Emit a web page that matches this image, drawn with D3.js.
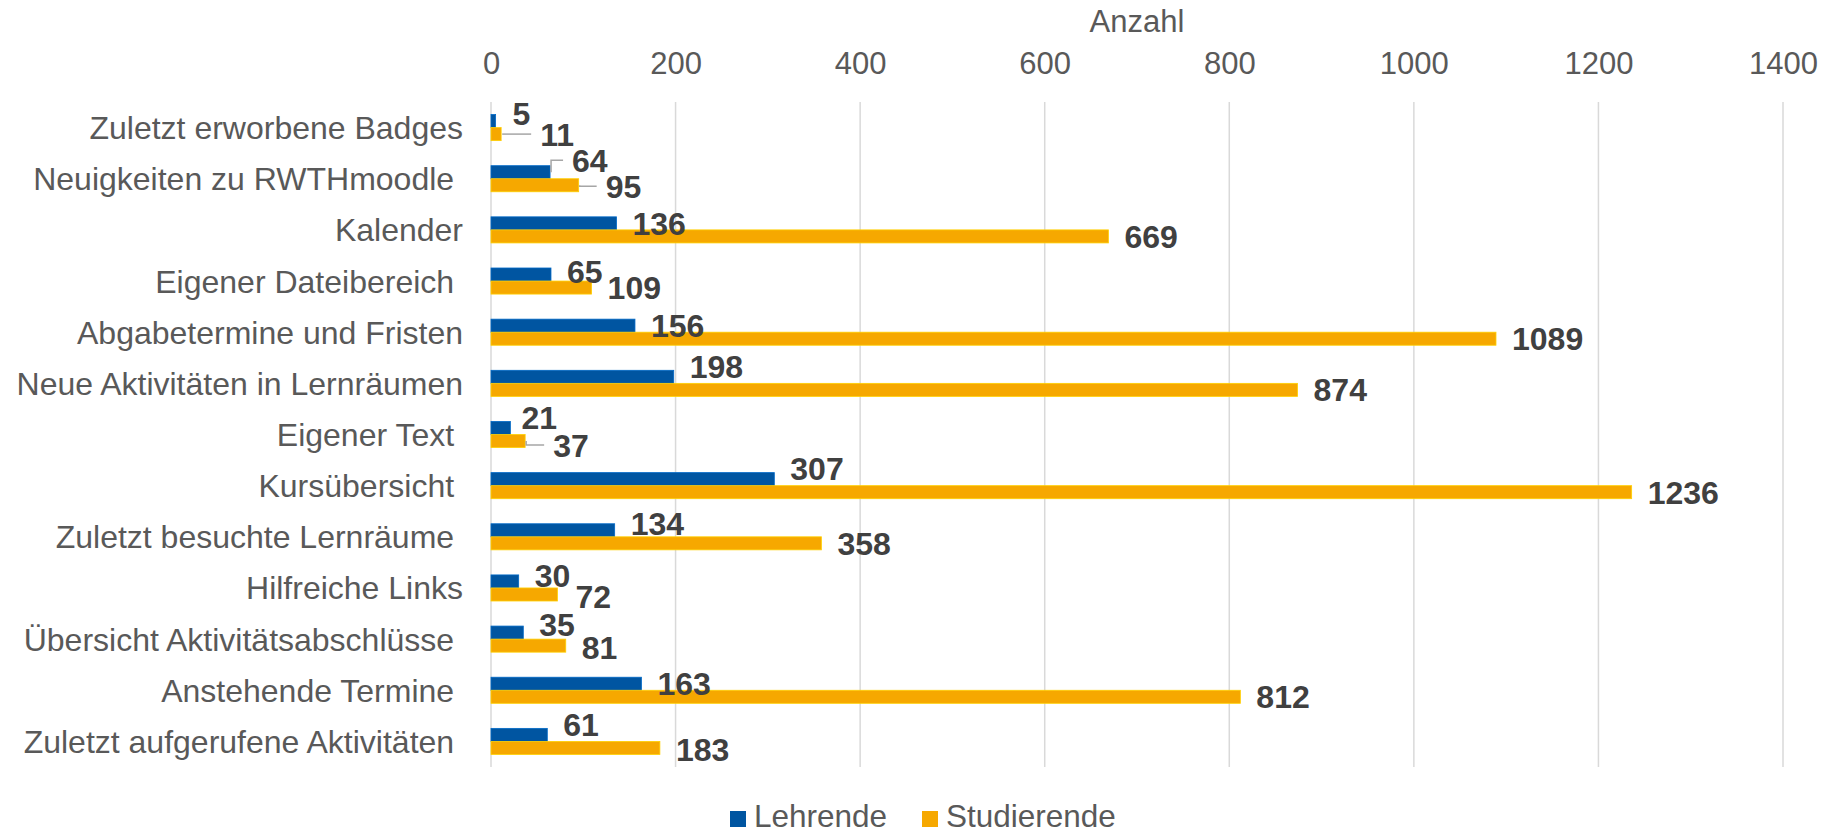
<!DOCTYPE html>
<html>
<head>
<meta charset="utf-8">
<script src="https://cdn.jsdelivr.net/npm/d3@7"></script>
<style>
    body { margin: 0; background: #fff; }
    text { font-family: "Liberation Sans", Arial, sans-serif; }
    .cat { white-space: pre; }
</style>
</head>
<body>
<script>
// data
const categories = [
    "Zuletzt erworbene Badges",
    "Neuigkeiten zu RWTHmoodle ",
    "Kalender",
    "Eigener Dateibereich ",
    "Abgabetermine und Fristen",
    "Neue Aktivitäten in Lernräumen",
    "Eigener Text ",
    "Kursübersicht ",
    "Zuletzt besuchte Lernräume ",
    "Hilfreiche Links",
    "Übersicht Aktivitätsabschlüsse ",
    "Anstehende Termine ",
    "Zuletzt aufgerufene Aktivitäten ",
];
const lehrende = [5, 64, 136, 65, 156, 198, 21, 307, 134, 30, 35, 163, 61];
const studierende = [11, 95, 669, 109, 1089, 874, 37, 1236, 358, 72, 81, 812, 183];
const seriesNames = ["Lehrende", "Studierende"];
const xTicks = [0, 200, 400, 600, 800, 1000, 1200, 1400];
const axisTitle = "Anzahl";

const colours = ["#0055A1", "#F6A800"];

const width = 1831;
const height = 835;

const svg = d3
    .select("body")
    .append("svg")
    .attr("width", width)
    .attr("height", height);

const x = d3.scaleLinear().domain([0, 1400]).range([491, 1783]);
const y = d3
    .scaleBand()
    .domain(d3.range(categories.length))
    .range([102, 767])
    .paddingInner(0.49)
    .paddingOuter(0.245);
const ySub = d3.scaleBand().domain([0, 1]).range([0, y.bandwidth()]);

// gridlines
svg.append("g")
    .selectAll("line")
    .data(xTicks)
    .join("line")
    .attr("x1", (d) => x(d))
    .attr("x2", (d) => x(d))
    .attr("y1", 102)
    .attr("y2", 767)
    .attr("stroke", "#d9d9d9")
    .attr("stroke-width", 1.5);

// top axis labels
const xAxis = d3.axisTop(x).tickValues(xTicks).tickSize(0).tickPadding(0).tickFormat(d3.format("d"));
const gx = svg.append("g").attr("transform", "translate(0,74)").call(xAxis);
gx.select(".domain").remove();
gx.selectAll("text")
    .attr("font-size", 31)
    .attr("fill", "#595959")
    .style("font-family", '"Liberation Sans", Arial, sans-serif');

svg.append("text")
    .attr("x", (x(0) + x(1400)) / 2)
    .attr("y", 32)
    .attr("text-anchor", "middle")
    .attr("font-size", 31)
    .attr("fill", "#595959")
    .text(axisTitle);

// category labels
svg.append("g")
    .selectAll("text")
    .data(categories)
    .join("text")
    .attr("class", "cat")
    .attr("x", 463)
    .attr("y", (d, i) => y(i) + y.bandwidth() / 2)
    .attr("dy", "0.36em")
    .attr("text-anchor", "end")
    .attr("font-size", 32)
    .attr("fill", "#595959")
    .text((d) => d);

// one record per bar
const bars = [];
categories.forEach((c, i) => {
    [lehrende[i], studierende[i]].forEach((v, s) => {
        bars.push({ i: i, s: s, value: v });
    });
});

svg.append("g")
    .selectAll("rect")
    .data(bars)
    .join("rect")
    .attr("x", x(0))
    .attr("y", (d) => y(d.i) + ySub(d.s))
    .attr("width", (d) => x(d.value) - x(0))
    .attr("height", ySub.bandwidth())
    .attr("fill", (d) => colours[d.s])
    .attr("stroke", (d) => d3.color(colours[d.s]).brighter(0.6))
    .attr("stroke-width", 0.8);

// manual label nudges (dx, dy in px) as they were dragged in the original
const nudges = {
    "0-0": { dx: 1, dy: -8 },
    "0-1": { dx: 23, dy: 0, leader: true },
    "1-0": { dx: 6, dy: -12, leader: true },
    "1-1": { dx: 11, dy: 1, leader: true },
    "3-0": { dx: 0, dy: -3 },
    "5-0": { dx: 0, dy: -10 },
    "6-0": { dx: -5, dy: -10 },
    "6-1": { dx: 12, dy: 4, leader: true },
    "7-0": { dx: 0, dy: -11 },
    "8-0": { dx: 0, dy: -7 },
    "9-0": { dx: 0, dy: -6 },
    "9-1": { dx: 2, dy: 1.5 },
    "10-0": { dx: 0, dy: -8 },
    "10-1": { dx: 0, dy: 2 },
    "12-0": { dx: 0, dy: -10 },
    "12-1": { dx: 0, dy: 1.5 },
};

bars.forEach((d) => {
    const n = nudges[d.i + "-" + d.s] || { dx: 0, dy: 0 };
    d.barEnd = x(d.value);
    d.barMid = y(d.i) + ySub(d.s) + ySub.bandwidth() / 2;
    d.lx = d.barEnd + 16 + n.dx;
    d.ly = d.barMid + n.dy;
    d.leader = !!n.leader;
});

// leader lines
svg.append("g")
    .selectAll("path")
    .data(bars.filter((d) => d.leader))
    .join("path")
    .attr("d", (d) => {
        const x0 = d.barEnd + 1;
        return `M${x0},${d.barMid} L${x0},${d.ly} L${d.lx - 9},${d.ly}`;
    })
    .attr("fill", "none")
    .attr("stroke", "#a6a6a6")
    .attr("stroke-width", 1.5);

// data labels
svg.append("g")
    .selectAll("text")
    .data(bars)
    .join("text")
    .attr("x", (d) => d.lx)
    .attr("y", (d) => d.ly)
    .attr("dy", "0.36em")
    .attr("font-size", 32)
    .attr("font-weight", "bold")
    .attr("fill", "#404040")
    .text((d) => d.value);

// legend
const legendX = [730, 922];
const legend = svg.append("g")
    .selectAll("g")
    .data(seriesNames)
    .join("g")
    .attr("transform", (d, i) => `translate(${legendX[i]},817)`);

legend.append("rect")
    .attr("x", 0)
    .attr("y", -6)
    .attr("width", 16)
    .attr("height", 16)
    .attr("fill", (d, i) => colours[i]);

legend.append("text")
    .attr("x", 24)
    .attr("y", 0)
    .attr("dy", "0.33em")
    .attr("font-size", 31.5)
    .attr("fill", "#595959")
    .text((d) => d);
</script>
</body>
</html>
